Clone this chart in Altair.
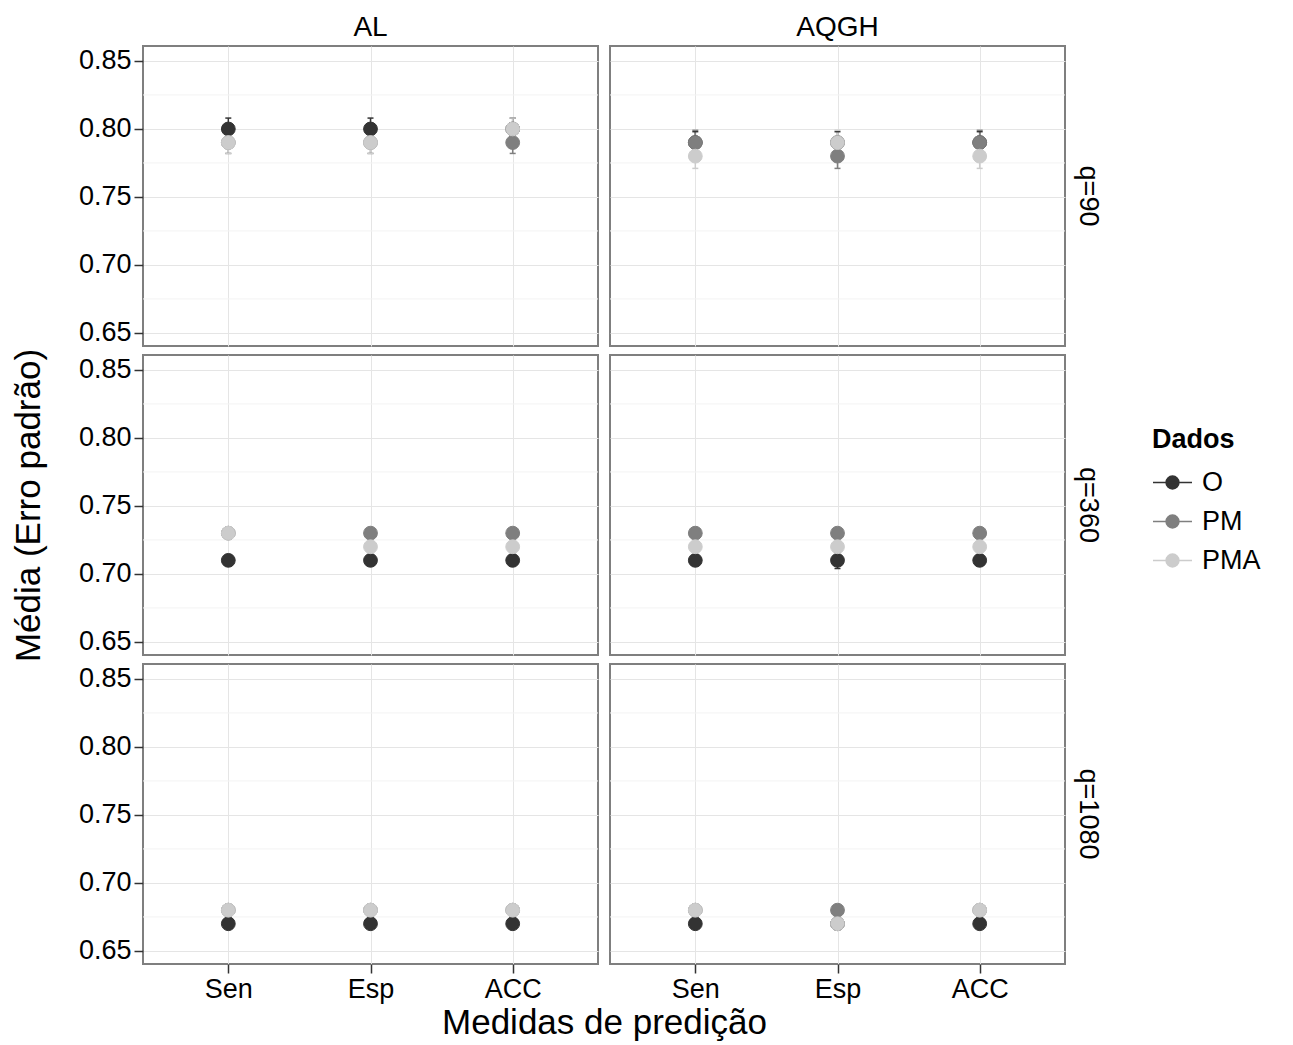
import altair as alt
import pandas as pd

# ---------------- data ----------------
models = ["AL", "AQGH"]
q_levels = ["q=90", "q=360", "q=1080"]
measures = ["Sen", "Esp", "ACC"]
groups = ["O", "PM", "PMA"]
group_colors = ["#333333", "#7f7f7f", "#cccccc"]
y_breaks = [0.65, 0.70, 0.75, 0.80, 0.85]
y_minor = [0.675, 0.725, 0.775, 0.825]
y_domain = [0.6404, 0.8610]

# values ordered: model (AL, AQGH) -> q (90, 360, 1080) -> measure (Sen, Esp, ACC)
mean_O = [0.80, 0.80, 0.80, 0.71, 0.71, 0.71, 0.67, 0.67, 0.67,
          0.79, 0.79, 0.79, 0.71, 0.71, 0.71, 0.67, 0.67, 0.67]
mean_PM = [0.79, 0.79, 0.79, 0.73, 0.73, 0.73, 0.68, 0.68, 0.68,
           0.79, 0.78, 0.79, 0.73, 0.73, 0.73, 0.68, 0.68, 0.68]
mean_PMA = [0.79, 0.79, 0.80, 0.73, 0.72, 0.72, 0.68, 0.68, 0.68,
            0.78, 0.79, 0.78, 0.72, 0.72, 0.72, 0.68, 0.67, 0.68]
se_O = [0.008, 0.008, 0.008, 0.004, 0.004, 0.004, 0.002, 0.002, 0.002,
        0.008, 0.008, 0.008, 0.004, 0.006, 0.004, 0.002, 0.002, 0.002]
se_PM = [0.008, 0.008, 0.008, 0.003, 0.003, 0.003, 0.002, 0.002, 0.002,
         0.009, 0.009, 0.009, 0.003, 0.003, 0.003, 0.002, 0.002, 0.002]
se_PMA = [0.008, 0.008, 0.008, 0.003, 0.003, 0.003, 0.002, 0.002, 0.002,
          0.009, 0.009, 0.009, 0.003, 0.003, 0.003, 0.002, 0.002, 0.002]

means = {"O": mean_O, "PM": mean_PM, "PMA": mean_PMA}
ses = {"O": se_O, "PM": se_PM, "PMA": se_PMA}

rows = []
k = 0
for m in models:
    for q in q_levels:
        for meas in measures:
            for gi, g in enumerate(groups):
                mu = means[g][k]
                s = ses[g][k]
                rows.append({"model": m, "q": q, "measure": meas, "group": g, "gi": gi,
                             "mean": mu, "lo": mu - s, "hi": mu + s})
            k += 1
df = pd.DataFrame(rows)
minor_df = pd.DataFrame({"v": y_minor})

# ---------------- styling ----------------
FONT = "Liberation Sans"
PW, PH = 455, 300
STRIP_H, STRIP_W = 37, 46
COL_GAP, ROW_GAP = 12, 9
SYMBOL = "M-1,0H1M0.33,0A0.33,0.33,0,1,1,-0.33,0A0.33,0.33,0,1,1,0.33,0Z"

yscale = alt.Scale(domain=y_domain, nice=False, zero=False)
xscale = alt.Scale(type="point", domain=measures, padding=0.6)
gscale = alt.Scale(domain=groups, range=group_colors)
legend = alt.Legend(title=["", "Dados"], titleLineHeight=72, orient="right", offset=87,
                    symbolType=SYMBOL, symbolSize=1521, symbolStrokeWidth=1.5,
                    labelFontSize=27, titleFontSize=27, titleFontWeight="bold",
                    titleColor="black", labelColor="black", rowPadding=5,
                    labelOffset=9, titlePadding=8)


def panel(mi, qi, with_legend=False):
    model = models[mi]
    q = q_levels[qi]
    d = df[(df["model"] == model) & (df["q"] == q)]
    left = mi == 0
    bottom = qi == len(q_levels) - 1
    yaxis = alt.Axis(values=y_breaks, format=".2f", grid=True, labels=left, ticks=left,
                     domain=False,
                     title="Média (Erro padrão)" if (left and qi == 1) else "",
                     titlePadding=32)
    xaxis_kw = dict(grid=True, labels=bottom, ticks=bottom, domain=False, labelAngle=0,
                    title="Medidas de predição" if (left and bottom) else "")
    if left and bottom:
        xaxis_kw["titleX"] = 461
        xaxis_kw["titlePadding"] = 3
    xaxis = alt.Axis(**xaxis_kw)
    x_enc = alt.X("measure:N", scale=xscale, axis=xaxis, sort=measures)
    base = alt.Chart(d)
    minor = alt.Chart(minor_df).mark_rule(color="#f3f3f3", strokeWidth=1).encode(
        y=alt.Y("v:Q", scale=yscale, axis=yaxis))
    col = alt.Color("group:N", scale=gscale, legend=None)
    bars = base.mark_rule(strokeWidth=1.5).encode(
        x=x_enc, y=alt.Y("lo:Q", scale=yscale, axis=yaxis), y2="hi:Q", color=col)
    cap_lo = base.mark_tick(orient="horizontal", size=6, thickness=1.5, opacity=1).encode(
        x=x_enc, y=alt.Y("lo:Q", scale=yscale, axis=yaxis), color=col)
    cap_hi = base.mark_tick(orient="horizontal", size=6, thickness=1.5, opacity=1).encode(
        x=x_enc, y=alt.Y("hi:Q", scale=yscale, axis=yaxis), color=col)
    if with_legend:
        fill_enc = alt.Fill("group:N", scale=gscale, legend=legend)
        stroke_enc = alt.Stroke("group:N", scale=gscale, legend=legend)
    else:
        fill_enc = alt.Fill("group:N", scale=gscale, legend=None)
        stroke_enc = alt.Stroke("group:N", scale=gscale, legend=None)
    pts = base.mark_point(filled=True, size=190, opacity=1, strokeWidth=1).encode(
        x=x_enc, y=alt.Y("mean:Q", scale=yscale, axis=yaxis),
        fill=fill_enc, stroke=stroke_enc, order=alt.Order("gi:Q"))
    return alt.layer(minor, bars, cap_lo, cap_hi, pts).properties(width=PW, height=PH)


def top_strip(mi):
    return alt.Chart(pd.DataFrame({"label": [models[mi]]})).mark_text(
        fontSize=28, font=FONT, color="black").encode(text="label:N").properties(
        width=PW, height=STRIP_H)


def right_strip(qi):
    return alt.Chart(pd.DataFrame({"label": [q_levels[qi]]})).mark_text(
        fontSize=27, font=FONT, color="black", angle=90).encode(text="label:N").properties(
        width=STRIP_W, height=PH)


def blank(w, h):
    return alt.Chart(pd.DataFrame({"t": [""]})).mark_text().encode(text="t:N").properties(
        width=w, height=h, view=alt.ViewBackground(stroke="transparent"))


# grid: columns = [AL panel, gap, AQGH panel, right strip]
cells = [top_strip(0), blank(COL_GAP, STRIP_H), top_strip(1), blank(STRIP_W, STRIP_H)]
for qi in range(len(q_levels)):
    if qi > 0:
        cells += [blank(PW, ROW_GAP), blank(COL_GAP, ROW_GAP), blank(PW, ROW_GAP),
                  blank(STRIP_W, ROW_GAP)]
    cells += [panel(0, qi), blank(COL_GAP, PH), panel(1, qi, with_legend=(qi == 1)),
              right_strip(qi)]

chart = alt.concat(*cells, columns=4, spacing=0, bounds="flush").resolve_scale(
    fill="shared", stroke="shared", color="shared"
).resolve_legend(fill="independent", stroke="independent").properties(
    padding={"left": 10, "top": 8, "right": 5, "bottom": 5},
    background="white",
).configure(font=FONT).configure_view(
    stroke="#7f7f7f", strokeWidth=2
).configure_axis(
    labelFontSize=27, labelColor="black", labelFont=FONT, labelPadding=3,
    tickColor="#333333", tickSize=9, tickWidth=1.5,
    gridColor="#e5e5e5", gridWidth=1,
    titleFontSize=35, titleFontWeight="normal", titleColor="black", titleFont=FONT,
).configure_legend(labelFont=FONT, titleFont=FONT)

chart.save("out.html", embed_options={"renderer": "svg", "actions": False})
